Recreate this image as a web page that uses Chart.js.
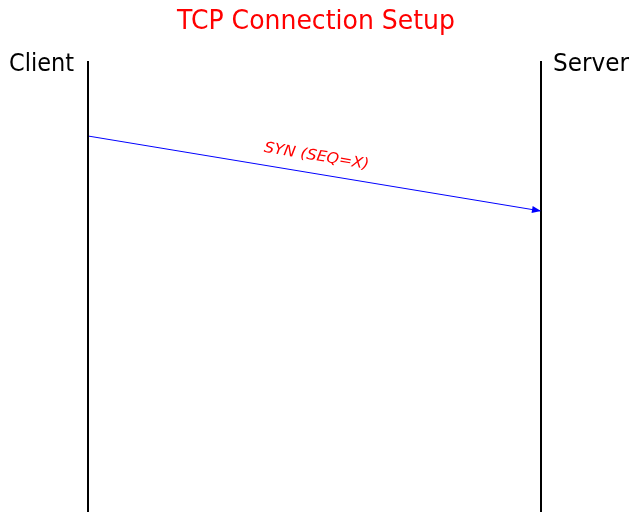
<!DOCTYPE html>
<html>
<head>
<meta charset="utf-8">
<title>TCP Connection Setup</title>
<script src="https://cdn.jsdelivr.net/npm/chart.js@4.4.1/dist/chart.umd.min.js"></script>
<style>
  html, body { margin: 0; padding: 0; background: #fff; }
  #wrap { width: 631px; height: 512px; }
</style>
</head>
<body>
<div id="wrap"><canvas id="seqChart" width="631" height="512"></canvas></div>
<script>
// Participants (x position in lifeline units) and their names
const participants = ['Client', 'Server'];
const lifelineX = [0, 1];
// Lifeline extent in time units (top = 0, grows downward)
const lifelineStart = 61;
const lifelineEnd = 512;
// Messages: from / to participant index, send and arrival times
const msgLabels = ['SYN (SEQ=X)'];
const msgFrom = [0];
const msgTo = [1];
const msgSend = [136];
const msgArrive = [211];

const chartTitle = 'TCP Connection Setup';

const lifelineSets = participants.map((name, i) => ({
    label: name,
    data: [{ x: lifelineX[i], y: lifelineStart }, { x: lifelineX[i], y: lifelineEnd }],
    borderColor: '#000000',
    borderWidth: 2,
    pointRadius: 0,
    showLine: true,
    fill: false
}));

const messageSets = msgLabels.map((lbl, i) => ({
    label: lbl,
    data: [{ x: lifelineX[msgFrom[i]], y: msgSend[i] }, { x: lifelineX[msgTo[i]], y: msgArrive[i] }],
    borderColor: '#0000ff',
    borderWidth: 1,
    pointRadius: 0,
    showLine: true,
    fill: false,
    isMessage: true
}));

// the reference font is a narrow sans, so squeeze DejaVu to the wanted width
function fitText(ctx, text, x, y, font, width, align) {
    ctx.font = font;
    const w = ctx.measureText(text).width;
    const k = width / w;
    ctx.save();
    ctx.translate(x, y);
    ctx.scale(k, 1);
    ctx.textAlign = align;
    ctx.fillText(text, 0, 0);
    ctx.restore();
}

// Draw names, title, arrowheads and message labels
const seqDecor = {
    id: 'seqDecor',
    afterDatasetsDraw(chart) {
        const ctx = chart.ctx;
        const xs = chart.scales.x, ys = chart.scales.y;
        ctx.save();
        ctx.textBaseline = 'alphabetic';

        // title
        ctx.fillStyle = '#ff0000';
        fitText(ctx, chartTitle, 316, 29, '27px "DejaVu Sans", sans-serif', 278, 'center');

        // participant names
        ctx.fillStyle = '#000000';
        participants.forEach((name, i) => {
            const px = xs.getPixelForValue(lifelineX[i]);
            if (i === 0) fitText(ctx, name, px - 14, 71, '24px "DejaVu Sans", sans-serif', 65, 'right');
            else fitText(ctx, name, px + 12, 71, '24px "DejaVu Sans", sans-serif', 76, 'left');
        });

        // messages
        chart.data.datasets.forEach((ds) => {
            if (!ds.isMessage) return;
            const x1 = xs.getPixelForValue(ds.data[0].x), y1 = ys.getPixelForValue(ds.data[0].y);
            const x2 = xs.getPixelForValue(ds.data[1].x), y2 = ys.getPixelForValue(ds.data[1].y);
            const ang = Math.atan2(y2 - y1, x2 - x1);

            // arrow head
            ctx.save();
            ctx.translate(x2, y2);
            ctx.rotate(ang);
            ctx.fillStyle = '#0000ff';
            ctx.beginPath();
            ctx.moveTo(0, 0);
            ctx.lineTo(-9, -3.5);
            ctx.lineTo(-9, 3.5);
            ctx.closePath();
            ctx.fill();
            ctx.restore();

            // label along the arrow
            ctx.save();
            ctx.translate((x1 + x2) / 2 + 2, (y1 + y2) / 2 - 17);
            ctx.rotate(ang);
            ctx.fillStyle = '#ff0000';
            ctx.textBaseline = 'middle';
            fitText(ctx, ds.label, 0, 0, 'oblique 15px "DejaVu Sans", sans-serif', 106, 'center');
            ctx.restore();
        });
        ctx.restore();
    }
};

new Chart(document.getElementById('seqChart').getContext('2d'), {
    type: 'scatter',
    data: { datasets: [...lifelineSets, ...messageSets] },
    options: {
        responsive: false,
        animation: false,
        layout: { padding: 0 },
        scales: {
            // 0 -> 88px, 1 -> 541px on a 631px canvas
            x: { type: 'linear', display: false, min: -88 / 453, max: 1 + 90 / 453 },
            y: { type: 'linear', display: false, min: 0, max: 512, reverse: true }
        },
        plugins: {
            legend: { display: false },
            tooltip: { enabled: false },
            title: { display: false }
        }
    },
    plugins: [seqDecor]
});
</script>
</body>
</html>
